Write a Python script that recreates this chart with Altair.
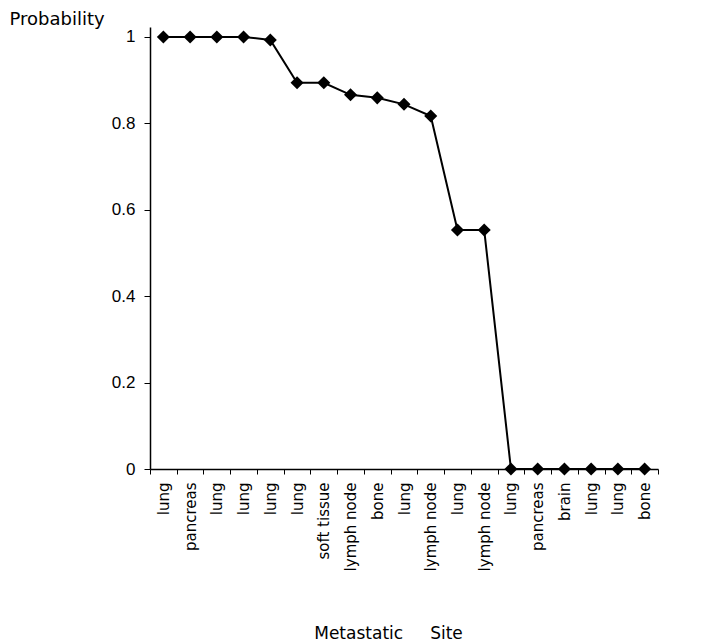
import json
import altair as alt
import pandas as pd

sites = ["lung", "pancreas", "lung", "lung", "lung", "lung", "soft tissue",
         "lymph node", "bone", "lung", "lymph node", "lung", "lymph node",
         "lung", "pancreas", "brain", "lung", "lung", "bone"]
probs = [1.0, 1.0, 1.0, 1.0, 0.993, 0.894, 0.894, 0.866, 0.859, 0.844,
         0.817, 0.553, 0.553, 0.0, 0.0, 0.0, 0.0, 0.0, 0.0]
y_ticks = [0, 0.2, 0.4, 0.6, 0.8, 1.0]

df = pd.DataFrame({"idx": list(range(len(sites))), "site": sites, "p": probs})
label_expr = json.dumps(sites) + "[datum.value]"

x = alt.X("idx:O", sort=None,
          scale=alt.Scale(paddingInner=0, paddingOuter=0),
          axis=alt.Axis(labelExpr=label_expr, labelAngle=-90, tickBand="extent",
                        tickSize=5, labelPadding=8, labelFont="DejaVu Sans",
                        labelFontSize=15, labelColor="black", domainColor="black",
                        tickColor="black", domainWidth=1.5,
                        title="Metastatic\u00a0\u00a0\u00a0\u00a0\u00a0Site",
                        titleFont="DejaVu Sans",
                        titleFontSize=17, titleFontWeight="normal", titleColor="black",
                        titleX=238, titleY=164, titleAlign="center",
                        titleBaseline="middle"))
y = alt.Y("p:Q", scale=alt.Scale(domain=[0, 1.023], nice=False, zero=True),
          axis=alt.Axis(values=y_ticks, format="~g", grid=False, tickSize=6,
                        labelPadding=9, labelFont="Liberation Sans", labelFontSize=17,
                        labelColor="black", domainColor="black", tickColor="black",
                        domainWidth=1.5,
                        title="Probability", titleFont="DejaVu Sans",
                        titleFontSize=18, titleFontWeight="normal", titleColor="black",
                        titleAngle=0, titleAlign="left", titleBaseline="alphabetic",
                        titleX=-141, titleY=-3))

base = alt.Chart(df).encode(x=x, y=y)
line = base.mark_line(color="black", strokeWidth=2)
pts = base.mark_point(shape="diamond", filled=True, color="black", size=170, opacity=1)

chart = (line + pts).properties(
    width=508, height=442,
    autosize=alt.AutoSizeParams(type="none"),
    padding={"left": 142, "top": 19, "right": 50, "bottom": 175},
).configure_view(stroke=None)

chart.save("out.html", embed_options={"renderer": "svg", "actions": False})
